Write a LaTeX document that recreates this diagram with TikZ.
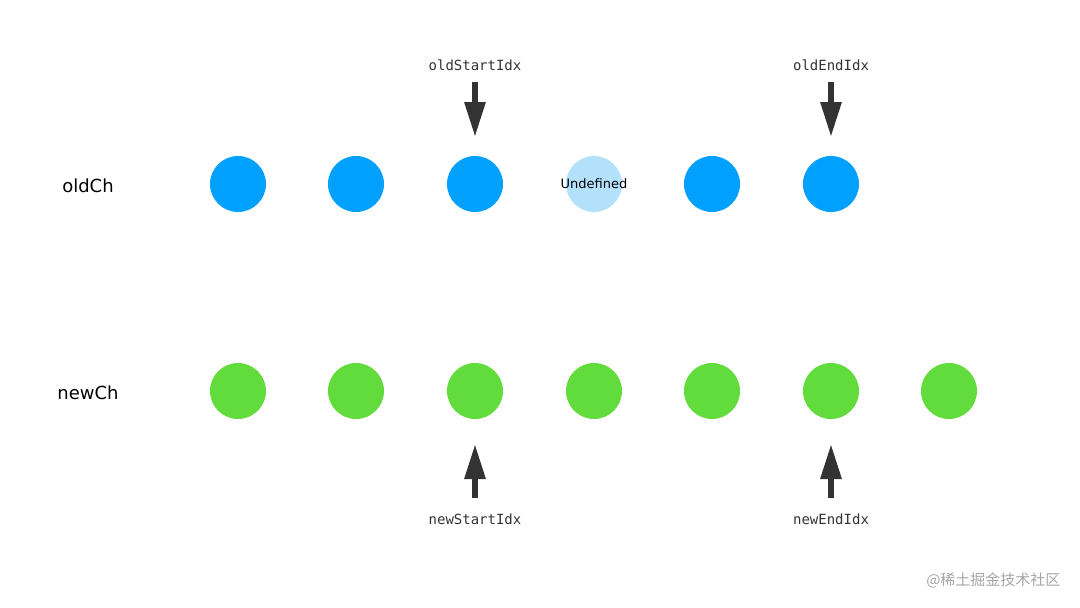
\documentclass[tikz,border=0pt]{standalone}
\usepackage{fontspec}
\setmainfont{DejaVu Sans}
\newfontfamily\monof{DejaVu Sans Mono}
\newfontfamily\cjk{Noto Sans CJK SC}
\usetikzlibrary{arrows.meta}
\definecolor{oldc}{HTML}{00A0FF}
\definecolor{undc}{HTML}{B3E1FC}
\definecolor{newc}{HTML}{62DC3C}
\definecolor{arrc}{HTML}{333333}
\begin{document}
\begin{tikzpicture}[x=1pt,y=-1pt,
  dot/.style={circle,minimum size=56pt,inner sep=0pt},
  olddot/.style={dot,fill=oldc},
  newdot/.style={dot,fill=newc},
  idxlabel/.style={font=\monof\fontsize{14}{16}\selectfont,text=arrc},
  rowlabel/.style={font=\fontsize{18}{20}\selectfont},
  ptr/.style={draw=arrc,line width=6pt,-{Triangle[length=35pt,width=20pt]}}]
\useasboundingbox (0,0) rectangle (1080,608);
\node[rowlabel] (oldlab) at (88,186) {oldCh};
\node[rowlabel] (newlab) at (88,393) {newCh};
\foreach \i/\x in {1/238,2/356,3/475,5/712,6/831}
  \node[olddot] (o\i) at (\x,184) {};
\node[dot,fill=undc] (o4) at (594,184) {};
\node[font=\fontsize{13}{15}\selectfont] (undl) at (594,184) {Undefined};
\foreach \i/\x in {1/238,2/356,3/475,4/594,5/712,6/831,7/949}
  \node[newdot] (n\i) at (\x,391) {};
\node[idxlabel] (os) at (475,65) {oldStartIdx};
\node[idxlabel] (oe) at (831,65) {oldEndIdx};
\node[idxlabel] (ns) at (475,519) {newStartIdx};
\node[idxlabel] (ne) at (831,519) {newEndIdx};
\coordinate (osa) at (475,82); \coordinate (osb) at (475,137);
\coordinate (oea) at (831,82); \coordinate (oeb) at (831,137);
\coordinate (nsa) at (475,498); \coordinate (nsb) at (475,444);
\coordinate (nea) at (831,498); \coordinate (neb) at (831,444);
\draw[ptr] (osa) -- (osb);
\draw[ptr] (oea) -- (oeb);
\draw[ptr] (nsa) -- (nsb);
\draw[ptr] (nea) -- (neb);
\node[font=\cjk\fontsize{15}{17}\selectfont,text=black!35,anchor=east] (wm) at (1064,580) {@稀土掘金技术社区};
\end{tikzpicture}
\end{document}
